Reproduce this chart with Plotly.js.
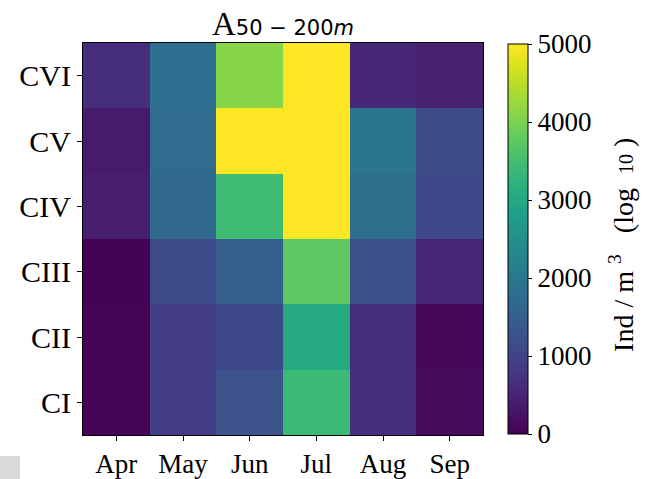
<!DOCTYPE html>
<html>
<head>
<meta charset="utf-8">
<script src="https://cdn.plot.ly/plotly-3.0.1.min.js"></script>
<style>
html,body{margin:0;padding:0;background:#fff;}
#chart{width:645px;height:479px;position:relative;}
#patch{position:absolute;left:0;top:456px;width:20px;height:23px;background:#d9d9d9;}
</style>
</head>
<body>
<div id="chart"></div>
<div id="patch"></div>
<script>
const months = ['Apr', 'May', 'Jun', 'Jul', 'Aug', 'Sep'];
const stages = ['CI', 'CII', 'CIII', 'CIV', 'CV', 'CVI'];
// rows: CI .. CVI (bottom to top), columns: Apr .. Sep
const rowCI   = [40, 900, 1250, 3400, 650, 120];
const rowCII  = [40, 900, 1100, 3050, 650, 100];
const rowCIII = [30, 1150, 1500, 3750, 1200, 500];
const rowCIV  = [400, 1700, 3450, 5000, 1850, 1100];
const rowCV   = [350, 1750, 5000, 5000, 1950, 1150];
const rowCVI  = [650, 1800, 4100, 5000, 550, 450];
const zValues = [rowCI, rowCII, rowCIII, rowCIV, rowCV, rowCVI];
const cbTicks = [0, 1000, 2000, 3000, 4000, 5000];
const cbTitle = 'Ind / m&nbsp;<sup>3</sup>&nbsp;&nbsp;&nbsp;(log&nbsp;&nbsp;<span style="font-size:20px">10</span>&nbsp;)';
const chartTitle = '<span style="font-size:33px">A</span><span style="font-family:DejaVu Sans;font-size:21px">50 − 200<i>m</i></span>';

const serif = 'Liberation Serif, Times New Roman, serif';

const trace = {
  type: 'heatmap',
  x: months,
  y: stages,
  z: zValues,
  zmin: 0,
  zmax: 5000,
  colorscale: 'Viridis',
  colorbar: {
    x: 1.0625, xanchor: 'left', xref: 'paper',
    y: 0.5, yanchor: 'middle',
    len: 0.995, lenmode: 'fraction',
    thickness: 20,
    xpad: 0, ypad: 0,
    outlinewidth: 1, outlinecolor: '#000',
    tickvals: cbTicks,
    ticktext: cbTicks.map(String),
    ticks: 'outside', ticklen: 4, tickwidth: 1, tickcolor: '#000',
    tickfont: {family: serif, size: 27, color: '#000'}
  }
};

const layout = {
  width: 645, height: 479,
  margin: {l: 83, r: 162, t: 43, b: 44},
  paper_bgcolor: '#fff',
  plot_bgcolor: '#fff',
  title: {
    text: chartTitle,
    font: {family: serif, size: 30, color: '#000'},
    x: 0.5, xref: 'paper', xanchor: 'center',
    y: 1 - 24 / 479, yref: 'container', yanchor: 'middle'
  },
  annotations: [{
    text: cbTitle,
    textangle: -90,
    xref: 'paper', yref: 'paper',
    x: 1.3475, y: 0.485,
    xanchor: 'center', yanchor: 'middle',
    showarrow: false,
    font: {family: serif, size: 28, color: '#000'}
  }],
  xaxis: {
    type: 'category',
    showline: true, mirror: true, linecolor: '#000', linewidth: 1,
    ticks: 'outside', ticklen: 5, tickwidth: 1, tickcolor: '#000',
    tickfont: {family: serif, size: 27, color: '#000'},
    showgrid: false, zeroline: false
  },
  yaxis: {
    type: 'category',
    showline: true, mirror: true, linecolor: '#000', linewidth: 1,
    ticks: 'outside', ticklen: 5, tickwidth: 1, tickcolor: '#000',
    tickfont: {family: serif, size: 30, color: '#000'},
    showgrid: false, zeroline: false
  }
};

Plotly.newPlot('chart', [trace], layout, {displayModeBar: false, staticPlot: true});
</script>
</body>
</html>
